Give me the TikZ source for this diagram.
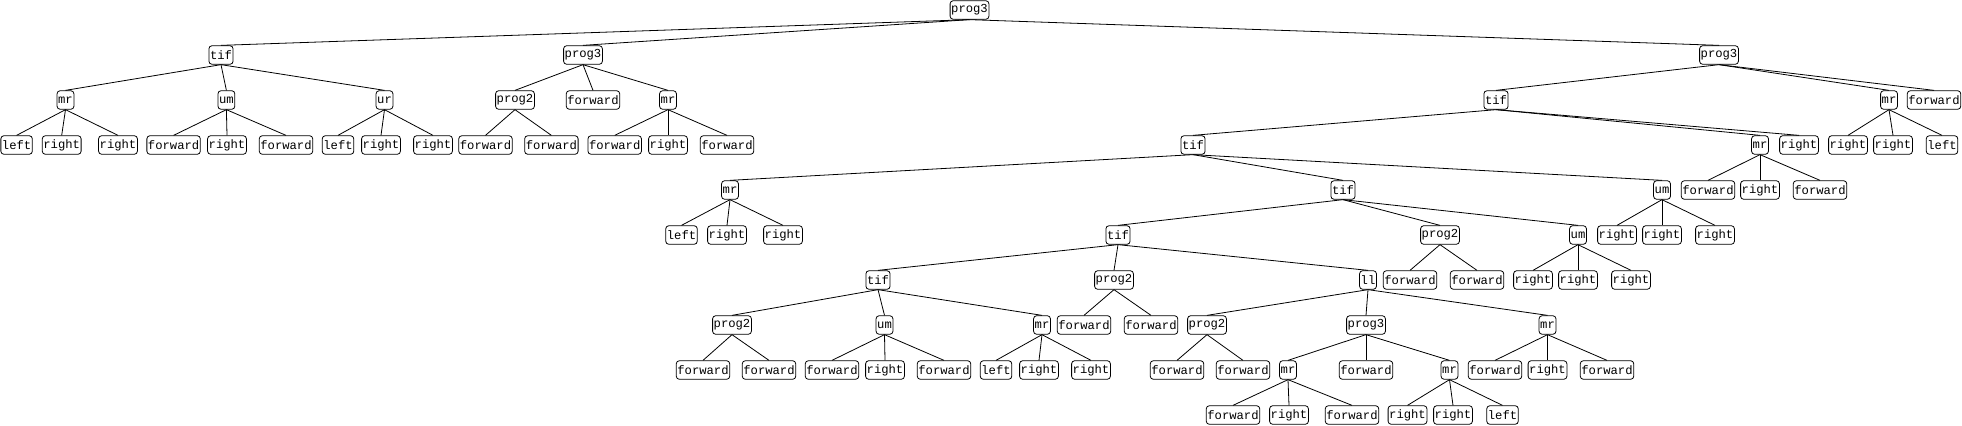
\documentclass[tikz,border=0pt]{standalone}
\usepackage{fontspec}
\newfontfamily\treefont{Liberation Mono}
\begin{document}
\begin{tikzpicture}[x=1bp,y=-1bp,
  nd/.style={draw,line width=0.8bp,rounded corners=3bp,inner xsep=1.1bp,inner ysep=0bp,
    minimum height=18.5bp,font=\treefont\fontsize{12.2bp}{12bp}\selectfont},
  ed/.style={line width=0.8bp}]
\useasboundingbox (0,0) rectangle (1962,425);
% level 0
\node[nd] (r) at (969.5,10) {prog3};
% level 1
\node[nd] (a) at (221,55) {tif};
\node[nd] (b) at (583,55) {prog3};
\node[nd] (c) at (1719,55) {prog3};
% level 2
\node[nd] (a1) at (65.5,100) {mr};
\node[nd] (a2) at (226.4,100) {um};
\node[nd] (a3) at (384.5,100) {ur};
\node[nd] (b1) at (515,100) {prog2};
\node[nd] (b2) at (593,100) {forward};
\node[nd] (b3) at (668,100) {mr};
\node[nd] (c1) at (1496,100) {tif};
\node[nd] (c2) at (1889,100) {mr};
\node[nd] (c3) at (1934,100) {forward};
% level 3
\node[nd] (a11) at (16.6,145) {left};
\node[nd] (a12) at (61.7,145) {right};
\node[nd] (a13) at (118,145) {right};
\node[nd] (a21) at (173.6,145) {forward};
\node[nd] (a22) at (227,145) {right};
\node[nd] (a23) at (286,145) {forward};
\node[nd] (a31) at (338,145) {left};
\node[nd] (a32) at (381,145) {right};
\node[nd] (a33) at (433,145) {right};
\node[nd] (b11) at (485.5,145) {forward};
\node[nd] (b12) at (551.4,145) {forward};
\node[nd] (b31) at (614.7,145) {forward};
\node[nd] (b32) at (668,145) {right};
\node[nd] (b33) at (727,145) {forward};
\node[nd] (c11) at (1193,145) {tif};
\node[nd] (c12) at (1760,145) {mr};
\node[nd] (c13) at (1799,145) {right};
\node[nd] (c21) at (1848,145) {right};
\node[nd] (c22) at (1893,145) {right};
\node[nd] (c23) at (1942,145) {left};
% level 4
\node[nd] (d1) at (730,190) {mr};
\node[nd] (d2) at (1343,190) {tif};
\node[nd] (d3) at (1662,190) {um};
\node[nd] (c121) at (1708,190) {forward};
\node[nd] (c122) at (1760,190) {right};
\node[nd] (c123) at (1820,190) {forward};
% level 5
\node[nd] (d11) at (681.5,235) {left};
\node[nd] (d12) at (727,235) {right};
\node[nd] (d13) at (783,235) {right};
\node[nd] (e1) at (1118,235) {tif};
\node[nd] (e2) at (1440,235) {prog2};
\node[nd] (e3) at (1578,235) {um};
\node[nd] (d31) at (1617,235) {right};
\node[nd] (d32) at (1662,235) {right};
\node[nd] (d33) at (1715,235) {right};
% level 6
\node[nd] (f1) at (878,280) {tif};
\node[nd] (f2) at (1114,280) {prog2};
\node[nd] (f3) at (1368,280) {ll};
\node[nd] (e21) at (1410,280) {forward};
\node[nd] (e22) at (1477,280) {forward};
\node[nd] (e31) at (1533,280) {right};
\node[nd] (e32) at (1578,280) {right};
\node[nd] (e33) at (1631,280) {right};
% level 7
\node[nd] (g1) at (732,325) {prog2};
\node[nd] (g2) at (884.5,325) {um};
\node[nd] (g3) at (1042,325) {mr};
\node[nd] (f21) at (1084,325) {forward};
\node[nd] (f22) at (1151,325) {forward};
\node[nd] (h1) at (1207,325) {prog2};
\node[nd] (h2) at (1366,325) {prog3};
\node[nd] (h3) at (1547.5,325) {mr};
% level 8
\node[nd] (g11) at (703,370) {forward};
\node[nd] (g12) at (769,370) {forward};
\node[nd] (g21) at (832,370) {forward};
\node[nd] (g22) at (885,370) {right};
\node[nd] (g23) at (944,370) {forward};
\node[nd] (g31) at (996,370) {left};
\node[nd] (g32) at (1039,370) {right};
\node[nd] (g33) at (1091,370) {right};
\node[nd] (h11) at (1177,370) {forward};
\node[nd] (h12) at (1243,370) {forward};
\node[nd] (i1) at (1288,370) {mr};
\node[nd] (i2) at (1366,370) {forward};
\node[nd] (i3) at (1449.5,370) {mr};
\node[nd] (h31) at (1495,370) {forward};
\node[nd] (h32) at (1547.5,370) {right};
\node[nd] (h33) at (1607,370) {forward};
% level 9
\node[nd] (i11) at (1233,415) {forward};
\node[nd] (i12) at (1289,415) {right};
\node[nd] (i13) at (1352,415) {forward};
\node[nd] (i31) at (1407.5,415) {right};
\node[nd] (i32) at (1453,415) {right};
\node[nd] (i33) at (1502.5,415) {left};
% edges
\foreach \p/\c in {r/a,r/b,r/c,
  a/a1,a/a2,a/a3,a1/a11,a1/a12,a1/a13,a2/a21,a2/a22,a2/a23,a3/a31,a3/a32,a3/a33,
  b/b1,b/b2,b/b3,b1/b11,b1/b12,b3/b31,b3/b32,b3/b33,
  c/c1,c/c2,c/c3,c1/c11,c1/c12,c1/c13,c2/c21,c2/c22,c2/c23,
  c12/c121,c12/c122,c12/c123,
  c11/d1,c11/d2,c11/d3,d1/d11,d1/d12,d1/d13,d3/d31,d3/d32,d3/d33,
  d2/e1,d2/e2,d2/e3,e2/e21,e2/e22,e3/e31,e3/e32,e3/e33,
  e1/f1,e1/f2,e1/f3,f2/f21,f2/f22,
  f1/g1,f1/g2,f1/g3,g1/g11,g1/g12,g2/g21,g2/g22,g2/g23,g3/g31,g3/g32,g3/g33,
  f3/h1,f3/h2,f3/h3,h1/h11,h1/h12,h3/h31,h3/h32,h3/h33,
  h2/i1,h2/i2,h2/i3,i1/i11,i1/i12,i1/i13,i3/i31,i3/i32,i3/i33}
  {\draw[ed] (\p.south) -- (\c.north);}
\end{tikzpicture}
\end{document}
